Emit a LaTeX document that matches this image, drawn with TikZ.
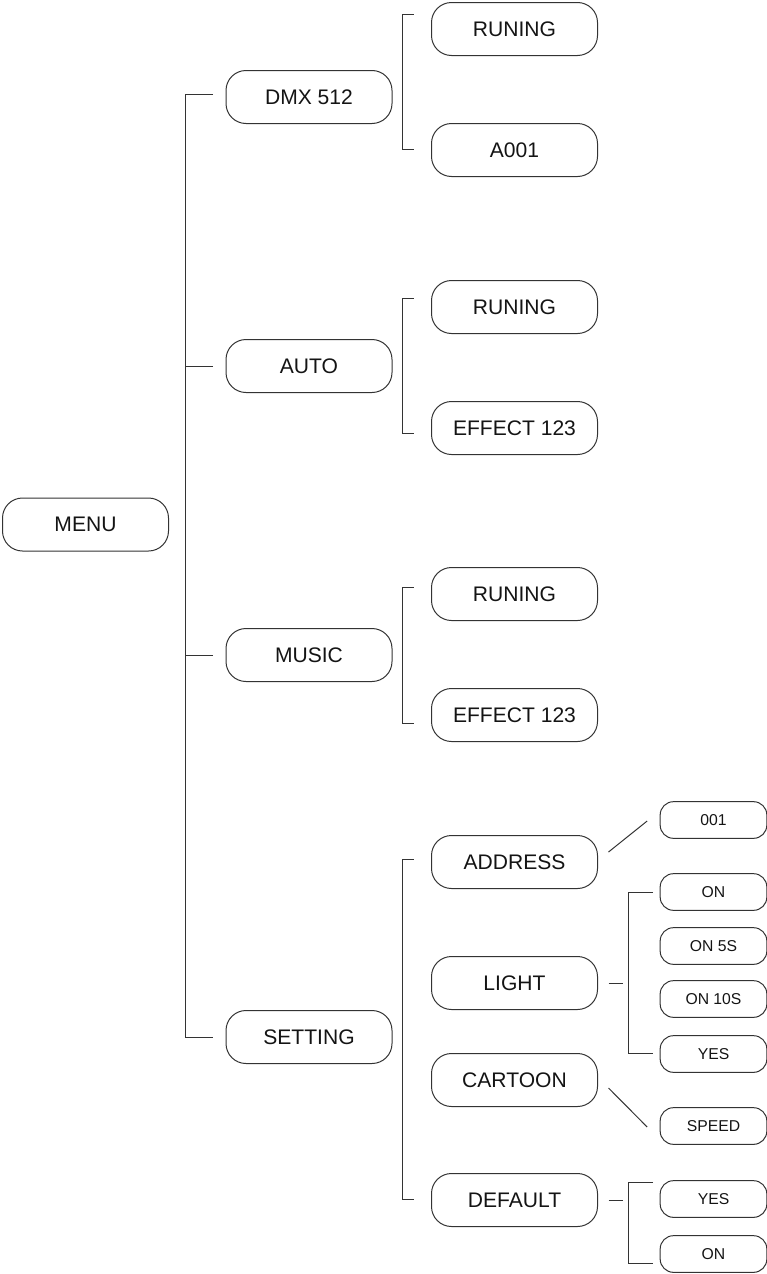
\documentclass[tikz,border=0pt]{standalone}
\usepackage{fontspec}
\setmainfont{Liberation Sans}
\usetikzlibrary{positioning,calc}

\begin{document}
\begin{tikzpicture}[x=0.75pt,y=-0.75pt,
		bigbox/.style={draw=black!80,line width=0.75pt,rounded corners=15pt,minimum width=124.5pt,minimum height=39.75pt,outer sep=0pt,font=\fontsize{15.8}{18}\selectfont,text=black!92},
		smallbox/.style={draw=black!80,line width=0.75pt,rounded corners=10pt,minimum width=80pt,minimum height=27.5pt,outer sep=0pt,font=\fontsize{11.8}{14}\selectfont,text=black!92},
		link/.style={draw=black!80,line width=0.75pt}]
		\useasboundingbox (0,0) rectangle (767,1274);

		\node[bigbox] (menu) at (85.5,524.5) {MENU};

		\node[bigbox] (dmx) at (309,97) {DMX 512};
		\node[bigbox] (auto) at (309,366) {AUTO};
		\node[bigbox] (music) at (309,655) {MUSIC};
		\node[bigbox] (setting) at (309,1037) {SETTING};

		\node[bigbox] (runA) at (514.5,29) {RUNING};
		\node[bigbox] (addr) at (514.5,150) {A001};
		\node[bigbox] (runB) at (514.5,307) {RUNING};
		\node[bigbox] (effB) at (514.5,428) {EFFECT 123};
		\node[bigbox] (runC) at (514.5,594) {RUNING};
		\node[bigbox] (effC) at (514.5,715) {EFFECT 123};
		\node[bigbox] (address) at (514.5,862) {ADDRESS};
		\node[bigbox] (light) at (514.5,983) {LIGHT};
		\node[bigbox] (cartoon) at (514.5,1080) {CARTOON};
		\node[bigbox] (default) at (514.5,1200) {DEFAULT};

		\node[smallbox] (num) at (713.5,820) {001};
		\node[smallbox] (on) at (713.5,892) {ON};
		\node[smallbox] (onfive) at (713.5,946) {ON 5S};
		\node[smallbox] (onten) at (713.5,999) {ON 10S};
		\node[smallbox] (yes) at (713.5,1054) {YES};
		\node[smallbox] (speed) at (713.5,1126) {SPEED};
		\node[smallbox] (yesdef) at (713.5,1199) {YES};
		\node[smallbox] (ondef) at (713.5,1254) {ON};

		% main bracket
		\draw[link] ($(dmx.west)+(-13,-3)$) -- ++(-28,0) |- ($(setting.west)+(-13,0)$);
		\draw[link] ($(auto.west)+(-13,0)$) -- ++(-28,0);
		\draw[link] ($(music.west)+(-13,0)$) -- ++(-28,0);

		% sub brackets
		\draw[link] ($(runA.west)+(-18,-15)$) -- ++(-11,0) |- ($(addr.west)+(-18,-1)$);
		\draw[link] ($(runB.west)+(-18,-9)$) -- ++(-11,0) |- ($(effB.west)+(-18,5)$);
		\draw[link] ($(runC.west)+(-18,-7)$) -- ++(-11,0) |- ($(effC.west)+(-18,8)$);
		\draw[link] ($(address.west)+(-18,-3)$) -- ++(-11,0) |- ($(default.west)+(-18,-1)$);

		% setting items
		\draw[link] ($(address.east)+(11,-10)$) -- ($(num.west)+(-13,1)$);
		\draw[link] ($(light.east)+(11,0)$) -- ++(14,0);
		\draw[link] ($(on.west)+(-7,0)$) -- ++(-25,0) |- ($(yes.west)+(-7,-1)$);
		\draw[link] ($(cartoon.east)+(11,8)$) -- ($(speed.west)+(-13,1)$);
		\draw[link] ($(default.east)+(11,0)$) -- ++(14,0);
		\draw[link] ($(yesdef.west)+(-7,-17)$) -- ++(-25,0) |- ($(ondef.west)+(-7,9)$);
	\end{tikzpicture}
\end{document}
